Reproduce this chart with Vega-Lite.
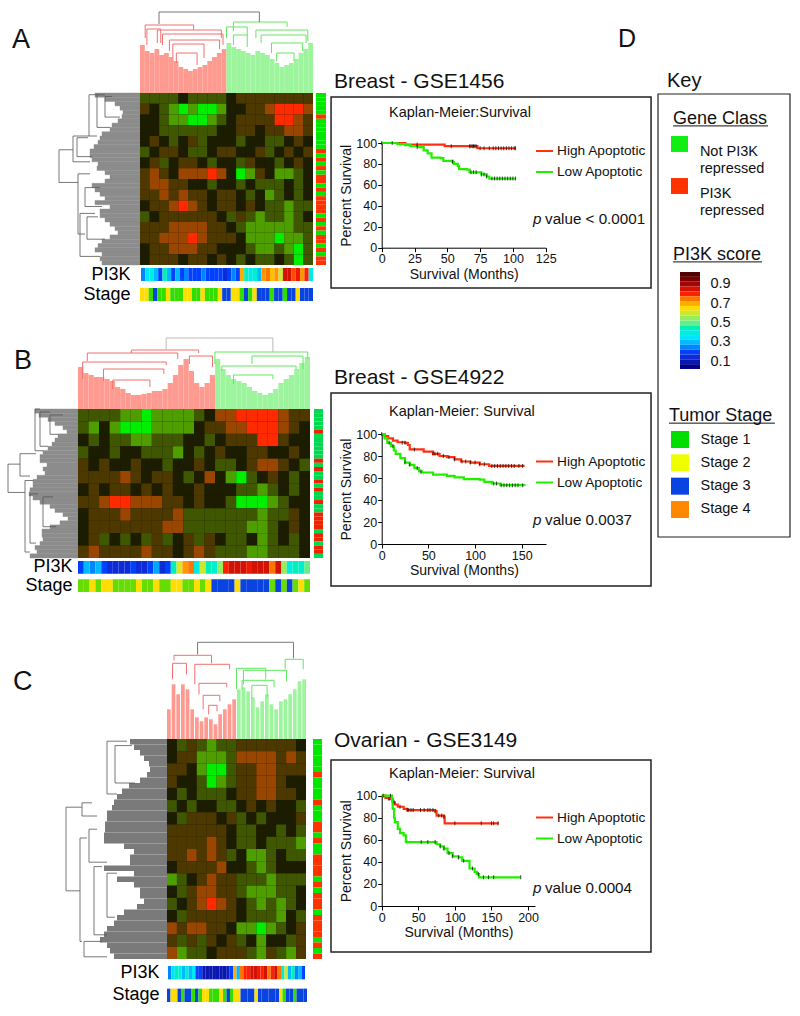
{"$schema":"https://vega.github.io/schema/vega-lite/v6.json","width":800,"height":1016,"padding":0,"autosize":{"type":"fit","contains":"padding"},"background":"white",
"config":{"font":"Liberation Sans","view":{"stroke":null},"text":{"align":"left","baseline":"middle","color":"#111"},"axis":{"grid":false,"labelFontSize":12.5,"titleFontSize":14,"titleFontWeight":"normal","tickSize":4,"tickColor":"#000","domainColor":"#000","labelColor":"#111","titleColor":"#111","labelPadding":1,"titlePadding":2,"labelOverlap":false,"labelFlush":false},"legend":{"title":null,"labelFontSize":13.7,"labelColor":"#111","symbolType":"stroke","symbolSize":289,"symbolStrokeWidth":2,"rowPadding":4,"labelOffset":3}},
"datasets":{
"A_top":[{"l":1,"h":48,"s":"P"},{"l":2,"h":42,"s":"P"},{"l":3,"h":40,"s":"P"},{"l":4,"h":44,"s":"P"},{"l":5,"h":38,"s":"P"},{"l":6,"h":40,"s":"P"},{"l":7,"h":36,"s":"P"},{"l":8,"h":32,"s":"P"},{"l":9,"h":26,"s":"P"},{"l":10,"h":24,"s":"P"},{"l":11,"h":22,"s":"P"},{"l":12,"h":24,"s":"P"},{"l":13,"h":26,"s":"P"},{"l":14,"h":28,"s":"P"},{"l":15,"h":32,"s":"P"},{"l":16,"h":36,"s":"P"},{"l":17,"h":40,"s":"P"},{"l":18,"h":44,"s":"P"},{"l":19,"h":50,"s":"N"},{"l":20,"h":46,"s":"N"},{"l":21,"h":44,"s":"N"},{"l":22,"h":42,"s":"N"},{"l":23,"h":40,"s":"N"},{"l":24,"h":38,"s":"N"},{"l":25,"h":42,"s":"N"},{"l":26,"h":40,"s":"N"},{"l":27,"h":38,"s":"N"},{"l":28,"h":34,"s":"N"},{"l":29,"h":30,"s":"N"},{"l":30,"h":26,"s":"N"},{"l":31,"h":28,"s":"N"},{"l":32,"h":30,"s":"N"},{"l":33,"h":34,"s":"N"},{"l":34,"h":40,"s":"N"},{"l":35,"h":44,"s":"N"},{"l":36,"h":50,"s":"N"}],
"B_top":[{"l":1,"h":42,"s":"P"},{"l":2,"h":36,"s":"P"},{"l":3,"h":34,"s":"P"},{"l":4,"h":32,"s":"P"},{"l":5,"h":32,"s":"P"},{"l":6,"h":30,"s":"P"},{"l":7,"h":28,"s":"P"},{"l":8,"h":22,"s":"P"},{"l":9,"h":20,"s":"P"},{"l":10,"h":16,"s":"P"},{"l":11,"h":14,"s":"P"},{"l":12,"h":14,"s":"P"},{"l":13,"h":15,"s":"P"},{"l":14,"h":16,"s":"P"},{"l":15,"h":18,"s":"P"},{"l":16,"h":18,"s":"P"},{"l":17,"h":20,"s":"P"},{"l":18,"h":26,"s":"P"},{"l":19,"h":34,"s":"P"},{"l":20,"h":44,"s":"P"},{"l":21,"h":50,"s":"P"},{"l":22,"h":38,"s":"P"},{"l":23,"h":26,"s":"P"},{"l":24,"h":22,"s":"P"},{"l":25,"h":26,"s":"P"},{"l":26,"h":34,"s":"P"},{"l":27,"h":50,"s":"N"},{"l":28,"h":40,"s":"N"},{"l":29,"h":34,"s":"N"},{"l":30,"h":30,"s":"N"},{"l":31,"h":28,"s":"N"},{"l":32,"h":26,"s":"N"},{"l":33,"h":22,"s":"N"},{"l":34,"h":18,"s":"N"},{"l":35,"h":16,"s":"N"},{"l":36,"h":14,"s":"N"},{"l":37,"h":16,"s":"N"},{"l":38,"h":20,"s":"N"},{"l":39,"h":26,"s":"N"},{"l":40,"h":30,"s":"N"},{"l":41,"h":34,"s":"N"},{"l":42,"h":40,"s":"N"},{"l":43,"h":46,"s":"N"},{"l":44,"h":52,"s":"N"}],
"C_top":[{"l":1,"h":30,"s":"P"},{"l":2,"h":55,"s":"P"},{"l":3,"h":45,"s":"P"},{"l":4,"h":55,"s":"P"},{"l":5,"h":50,"s":"P"},{"l":6,"h":30,"s":"P"},{"l":7,"h":22,"s":"P"},{"l":8,"h":18,"s":"P"},{"l":9,"h":22,"s":"P"},{"l":10,"h":20,"s":"P"},{"l":11,"h":15,"s":"P"},{"l":12,"h":25,"s":"P"},{"l":13,"h":30,"s":"P"},{"l":14,"h":35,"s":"P"},{"l":15,"h":40,"s":"P"},{"l":16,"h":50,"s":"N"},{"l":17,"h":52,"s":"N"},{"l":18,"h":48,"s":"N"},{"l":19,"h":42,"s":"N"},{"l":20,"h":32,"s":"N"},{"l":21,"h":38,"s":"N"},{"l":22,"h":45,"s":"N"},{"l":23,"h":35,"s":"N"},{"l":24,"h":30,"s":"N"},{"l":25,"h":38,"s":"N"},{"l":26,"h":40,"s":"N"},{"l":27,"h":45,"s":"N"},{"l":28,"h":50,"s":"N"},{"l":29,"h":58,"s":"N"},{"l":30,"h":60,"s":"N"}],
"A_arch":[{"l":11,"r":69,"h":81,"a":69,"b":71,"g":"root"},{"l":3,"r":31,"h":68,"a":55,"b":63,"g":"P"},{"l":10,"r":47,"h":63,"a":50,"b":55,"g":"P"},{"l":13,"r":48,"h":59,"a":48,"b":48,"g":"P"},{"l":17,"r":46,"h":53,"a":42,"b":44,"g":"P"},{"l":19,"r":37,"h":49,"a":36,"b":35,"g":"P"},{"l":21,"r":33,"h":40,"a":30,"b":28,"g":"P"},{"l":4,"r":12,"h":64,"a":48,"b":50,"g":"P"},{"l":54,"r":85,"h":71,"a":62,"b":66,"g":"N"},{"l":50,"r":62,"h":66,"a":55,"b":58,"g":"N"},{"l":67,"r":97,"h":63,"a":55,"b":52,"g":"N"},{"l":70,"r":96,"h":58,"a":50,"b":50,"g":"N"},{"l":76,"r":94,"h":50,"a":40,"b":42,"g":"N"},{"l":79,"r":89,"h":40,"a":32,"b":32,"g":"N"},{"l":54,"r":62,"h":58,"a":48,"b":46,"g":"N"}],
"B_arch":[{"l":38,"r":84,"h":71,"a":59,"b":57,"g":"root"},{"l":23,"r":52,"h":59,"a":56,"b":56,"g":"P"},{"l":4,"r":43,"h":56,"a":48,"b":50,"g":"P"},{"l":48,"r":58,"h":53,"a":45,"b":42,"g":"P"},{"l":2,"r":38,"h":47,"a":30,"b":44,"g":"P"},{"l":11,"r":37,"h":40,"a":28,"b":35,"g":"P"},{"l":15,"r":31,"h":29,"a":20,"b":22,"g":"P"},{"l":59,"r":99,"h":57,"a":45,"b":50,"g":"N"},{"l":75,"r":97,"h":53,"a":45,"b":40,"g":"N"},{"l":62,"r":94,"h":43,"a":38,"b":40,"g":"N"},{"l":67,"r":84,"h":34,"a":25,"b":30,"g":"N"}],
"C_arch":[{"l":22,"r":91,"h":97,"a":85,"b":81,"g":"root"},{"l":5,"r":32,"h":84,"a":79,"b":76,"g":"P"},{"l":20,"r":45,"h":75,"a":55,"b":70,"g":"P"},{"l":23,"r":43,"h":56,"a":45,"b":52,"g":"P"},{"l":26,"r":38,"h":44,"a":30,"b":38,"g":"P"},{"l":4,"r":14,"h":76,"a":60,"b":65,"g":"P"},{"l":30,"r":36,"h":34,"a":25,"b":28,"g":"P"},{"l":85,"r":98,"h":80,"a":70,"b":70,"g":"N"},{"l":55,"r":86,"h":69,"a":55,"b":58,"g":"N"},{"l":50,"r":71,"h":71,"a":50,"b":60,"g":"N"},{"l":54,"r":77,"h":59,"a":50,"b":52,"g":"N"},{"l":61,"r":72,"h":54,"a":40,"b":42,"g":"N"}],
"A_left":[{"r":1,"d":45},{"r":2,"d":35},{"r":3,"d":25},{"r":4,"d":20},{"r":5,"d":17},{"r":6,"d":18},{"r":7,"d":22},{"r":8,"d":28},{"r":9,"d":30},{"r":10,"d":38},{"r":11,"d":40},{"r":12,"d":42},{"r":13,"d":46},{"r":14,"d":50},{"r":15,"d":50},{"r":16,"d":48},{"r":17,"d":42},{"r":18,"d":43},{"r":19,"d":35},{"r":20,"d":30},{"r":21,"d":35},{"r":22,"d":48},{"r":23,"d":45},{"r":24,"d":40},{"r":25,"d":35},{"r":26,"d":45},{"r":27,"d":30},{"r":28,"d":40},{"r":29,"d":40},{"r":30,"d":35},{"r":31,"d":30},{"r":32,"d":25},{"r":33,"d":22},{"r":34,"d":30},{"r":35,"d":38},{"r":36,"d":42},{"r":37,"d":45},{"r":38,"d":38},{"r":39,"d":40},{"r":40,"d":38}],
"B_left":[{"r":1,"d":43},{"r":2,"d":39},{"r":3,"d":30},{"r":4,"d":23},{"r":5,"d":15},{"r":6,"d":11},{"r":7,"d":20},{"r":8,"d":23},{"r":9,"d":26},{"r":10,"d":30},{"r":11,"d":35},{"r":12,"d":38},{"r":13,"d":38},{"r":14,"d":31},{"r":15,"d":35},{"r":16,"d":33},{"r":17,"d":41},{"r":18,"d":45},{"r":19,"d":45},{"r":20,"d":48},{"r":21,"d":49},{"r":22,"d":45},{"r":23,"d":38},{"r":24,"d":28},{"r":25,"d":23},{"r":26,"d":15},{"r":27,"d":10},{"r":28,"d":18},{"r":29,"d":28},{"r":30,"d":36},{"r":31,"d":36},{"r":32,"d":35},{"r":33,"d":38},{"r":34,"d":43},{"r":35,"d":41},{"r":36,"d":48}],
"C_left":[{"r":1,"d":37},{"r":2,"d":33},{"r":3,"d":27},{"r":4,"d":23},{"r":5,"d":18},{"r":6,"d":17},{"r":7,"d":20},{"r":8,"d":27},{"r":9,"d":38},{"r":10,"d":45},{"r":11,"d":50},{"r":12,"d":53},{"r":13,"d":55},{"r":14,"d":60},{"r":15,"d":60},{"r":16,"d":62},{"r":17,"d":62},{"r":18,"d":63},{"r":19,"d":63},{"r":20,"d":43},{"r":21,"d":33},{"r":22,"d":37},{"r":23,"d":37},{"r":24,"d":63},{"r":25,"d":33},{"r":26,"d":50},{"r":27,"d":33},{"r":28,"d":27},{"r":29,"d":27},{"r":30,"d":23},{"r":31,"d":30},{"r":32,"d":43},{"r":33,"d":50},{"r":34,"d":53},{"r":35,"d":60},{"r":36,"d":63},{"r":37,"d":67},{"r":38,"d":60},{"r":39,"d":57},{"r":40,"d":53}],
"A_la":[{"t":33,"b":52,"d":81,"p":67,"q":62},{"t":25,"b":40,"d":67,"p":51,"q":50},{"t":1,"b":25,"d":51,"p":43,"q":43},{"t":1,"b":20,"d":43,"p":35,"q":30},{"t":2,"b":14,"d":35,"p":28,"q":20},{"t":47,"b":82,"d":62,"p":50,"q":55},{"t":70,"b":95,"d":60,"p":45,"q":40},{"t":55,"b":66,"d":55,"p":40,"q":38},{"t":72,"b":85,"d":53,"p":42,"q":35},{"t":26,"b":37,"d":63,"p":52,"q":48}],
"B_la":[{"t":37,"b":56,"d":70,"p":58,"q":53},{"t":30,"b":45,"d":58,"p":42,"q":48},{"t":48,"b":96,"d":53,"p":45,"q":48},{"t":0,"b":28,"d":43,"p":38,"q":35},{"t":2,"b":25,"d":38,"p":28,"q":30},{"t":57,"b":90,"d":48,"p":40,"q":42},{"t":59,"b":79,"d":35,"p":25,"q":22},{"t":4,"b":17,"d":28,"p":15,"q":20}],
"C_la":[{"t":31,"b":69,"d":101,"p":85,"q":87},{"t":29,"b":35,"d":85,"p":75,"q":70},{"t":45,"b":92,"d":87,"p":80,"q":85},{"t":1,"b":25,"d":60,"p":40,"q":50},{"t":3,"b":20,"d":52,"p":35,"q":32},{"t":58,"b":89,"d":73,"p":65,"q":60},{"t":61,"b":81,"d":60,"p":50,"q":52},{"t":41,"b":56,"d":78,"p":70,"q":60},{"t":92,"b":99,"d":83,"p":65,"q":60}],
"A_heat":[{"c":1,"r":1,"v":-1},{"c":2,"r":1,"v":-1},{"c":3,"r":1,"v":-1},{"c":4,"r":1,"v":-1},{"c":5,"r":1,"v":0},{"c":6,"r":1,"v":-1},{"c":7,"r":1,"v":-1},{"c":8,"r":1,"v":-1},{"c":9,"r":1,"v":-1},{"c":10,"r":1,"v":0},{"c":11,"r":1,"v":1},{"c":12,"r":1,"v":1},{"c":13,"r":1,"v":1},{"c":14,"r":1,"v":1},{"c":15,"r":1,"v":1},{"c":16,"r":1,"v":1},{"c":17,"r":1,"v":1},{"c":18,"r":1,"v":1},
{"c":1,"r":2,"v":1},{"c":2,"r":2,"v":0},{"c":3,"r":2,"v":-1},{"c":4,"r":2,"v":-2},{"c":5,"r":2,"v":-3},{"c":6,"r":2,"v":-2},{"c":7,"r":2,"v":-3},{"c":8,"r":2,"v":-3},{"c":9,"r":2,"v":-2},{"c":10,"r":2,"v":0},{"c":11,"r":2,"v":0},{"c":12,"r":2,"v":1},{"c":13,"r":2,"v":1},{"c":14,"r":2,"v":2},{"c":15,"r":2,"v":3},{"c":16,"r":2,"v":3},{"c":17,"r":2,"v":3},{"c":18,"r":2,"v":2},
{"c":1,"r":3,"v":0},{"c":2,"r":3,"v":0},{"c":3,"r":3,"v":-1},{"c":4,"r":3,"v":-2},{"c":5,"r":3,"v":-2},{"c":6,"r":3,"v":-3},{"c":7,"r":3,"v":-3},{"c":8,"r":3,"v":-2},{"c":9,"r":3,"v":-1},{"c":10,"r":3,"v":0},{"c":11,"r":3,"v":1},{"c":12,"r":3,"v":1},{"c":13,"r":3,"v":1},{"c":14,"r":3,"v":1},{"c":15,"r":3,"v":3},{"c":16,"r":3,"v":3},{"c":17,"r":3,"v":2},{"c":18,"r":3,"v":1},
{"c":1,"r":4,"v":0},{"c":2,"r":4,"v":0},{"c":3,"r":4,"v":-1},{"c":4,"r":4,"v":-1},{"c":5,"r":4,"v":-1},{"c":6,"r":4,"v":-1},{"c":7,"r":4,"v":-1},{"c":8,"r":4,"v":-1},{"c":9,"r":4,"v":0},{"c":10,"r":4,"v":0},{"c":11,"r":4,"v":1},{"c":12,"r":4,"v":1},{"c":13,"r":4,"v":0},{"c":14,"r":4,"v":1},{"c":15,"r":4,"v":1},{"c":16,"r":4,"v":2},{"c":17,"r":4,"v":2},{"c":18,"r":4,"v":1},
{"c":1,"r":5,"v":0},{"c":2,"r":5,"v":1},{"c":3,"r":5,"v":0},{"c":4,"r":5,"v":-1},{"c":5,"r":5,"v":0},{"c":6,"r":5,"v":1},{"c":7,"r":5,"v":-1},{"c":8,"r":5,"v":0},{"c":9,"r":5,"v":0},{"c":10,"r":5,"v":0},{"c":11,"r":5,"v":-1},{"c":12,"r":5,"v":0},{"c":13,"r":5,"v":0},{"c":14,"r":5,"v":-1},{"c":15,"r":5,"v":-1},{"c":16,"r":5,"v":0},{"c":17,"r":5,"v":1},{"c":18,"r":5,"v":0},
{"c":1,"r":6,"v":-1},{"c":2,"r":6,"v":0},{"c":3,"r":6,"v":1},{"c":4,"r":6,"v":1},{"c":5,"r":6,"v":0},{"c":6,"r":6,"v":-1},{"c":7,"r":6,"v":-1},{"c":8,"r":6,"v":0},{"c":9,"r":6,"v":1},{"c":10,"r":6,"v":1},{"c":11,"r":6,"v":0},{"c":12,"r":6,"v":0},{"c":13,"r":6,"v":1},{"c":14,"r":6,"v":-1},{"c":15,"r":6,"v":0},{"c":16,"r":6,"v":1},{"c":17,"r":6,"v":0},{"c":18,"r":6,"v":1},
{"c":1,"r":7,"v":0},{"c":2,"r":7,"v":1},{"c":3,"r":7,"v":-1},{"c":4,"r":7,"v":0},{"c":5,"r":7,"v":1},{"c":6,"r":7,"v":1},{"c":7,"r":7,"v":0},{"c":8,"r":7,"v":-1},{"c":9,"r":7,"v":0},{"c":10,"r":7,"v":0},{"c":11,"r":7,"v":-1},{"c":12,"r":7,"v":1},{"c":13,"r":7,"v":0},{"c":14,"r":7,"v":0},{"c":15,"r":7,"v":-1},{"c":16,"r":7,"v":0},{"c":17,"r":7,"v":1},{"c":18,"r":7,"v":0},
{"c":1,"r":8,"v":1},{"c":2,"r":8,"v":2},{"c":3,"r":8,"v":1},{"c":4,"r":8,"v":0},{"c":5,"r":8,"v":2},{"c":6,"r":8,"v":2},{"c":7,"r":8,"v":2},{"c":8,"r":8,"v":3},{"c":9,"r":8,"v":2},{"c":10,"r":8,"v":0},{"c":11,"r":8,"v":-3},{"c":12,"r":8,"v":-2},{"c":13,"r":8,"v":1},{"c":14,"r":8,"v":0},{"c":15,"r":8,"v":-2},{"c":16,"r":8,"v":-2},{"c":17,"r":8,"v":-1},{"c":18,"r":8,"v":0},
{"c":1,"r":9,"v":1},{"c":2,"r":9,"v":2},{"c":3,"r":9,"v":2},{"c":4,"r":9,"v":1},{"c":5,"r":9,"v":1},{"c":6,"r":9,"v":0},{"c":7,"r":9,"v":0},{"c":8,"r":9,"v":-1},{"c":9,"r":9,"v":0},{"c":10,"r":9,"v":0},{"c":11,"r":9,"v":-1},{"c":12,"r":9,"v":0},{"c":13,"r":9,"v":-1},{"c":14,"r":9,"v":-1},{"c":15,"r":9,"v":-1},{"c":16,"r":9,"v":0},{"c":17,"r":9,"v":-1},{"c":18,"r":9,"v":0},
{"c":1,"r":10,"v":1},{"c":2,"r":10,"v":1},{"c":3,"r":10,"v":2},{"c":4,"r":10,"v":1},{"c":5,"r":10,"v":2},{"c":6,"r":10,"v":1},{"c":7,"r":10,"v":1},{"c":8,"r":10,"v":0},{"c":9,"r":10,"v":1},{"c":10,"r":10,"v":1},{"c":11,"r":10,"v":0},{"c":12,"r":10,"v":-1},{"c":13,"r":10,"v":0},{"c":14,"r":10,"v":-2},{"c":15,"r":10,"v":-1},{"c":16,"r":10,"v":0},{"c":17,"r":10,"v":-1},{"c":18,"r":10,"v":0},
{"c":1,"r":11,"v":0},{"c":2,"r":11,"v":1},{"c":3,"r":11,"v":1},{"c":4,"r":11,"v":2},{"c":5,"r":11,"v":3},{"c":6,"r":11,"v":2},{"c":7,"r":11,"v":1},{"c":8,"r":11,"v":0},{"c":9,"r":11,"v":1},{"c":10,"r":11,"v":1},{"c":11,"r":11,"v":0},{"c":12,"r":11,"v":1},{"c":13,"r":11,"v":0},{"c":14,"r":11,"v":-1},{"c":15,"r":11,"v":-1},{"c":16,"r":11,"v":-2},{"c":17,"r":11,"v":-1},{"c":18,"r":11,"v":-1},
{"c":1,"r":12,"v":-1},{"c":2,"r":12,"v":0},{"c":3,"r":12,"v":1},{"c":4,"r":12,"v":1},{"c":5,"r":12,"v":1},{"c":6,"r":12,"v":1},{"c":7,"r":12,"v":1},{"c":8,"r":12,"v":1},{"c":9,"r":12,"v":0},{"c":10,"r":12,"v":-1},{"c":11,"r":12,"v":1},{"c":12,"r":12,"v":-1},{"c":13,"r":12,"v":-2},{"c":14,"r":12,"v":-1},{"c":15,"r":12,"v":-1},{"c":16,"r":12,"v":-2},{"c":17,"r":12,"v":-1},{"c":18,"r":12,"v":0},
{"c":1,"r":13,"v":1},{"c":2,"r":13,"v":1},{"c":3,"r":13,"v":1},{"c":4,"r":13,"v":2},{"c":5,"r":13,"v":2},{"c":6,"r":13,"v":2},{"c":7,"r":13,"v":2},{"c":8,"r":13,"v":1},{"c":9,"r":13,"v":1},{"c":10,"r":13,"v":0},{"c":11,"r":13,"v":-1},{"c":12,"r":13,"v":-2},{"c":13,"r":13,"v":-2},{"c":14,"r":13,"v":-2},{"c":15,"r":13,"v":-2},{"c":16,"r":13,"v":-2},{"c":17,"r":13,"v":-1},{"c":18,"r":13,"v":-1},
{"c":1,"r":14,"v":1},{"c":2,"r":14,"v":1},{"c":3,"r":14,"v":2},{"c":4,"r":14,"v":2},{"c":5,"r":14,"v":2},{"c":6,"r":14,"v":3},{"c":7,"r":14,"v":2},{"c":8,"r":14,"v":1},{"c":9,"r":14,"v":1},{"c":10,"r":14,"v":1},{"c":11,"r":14,"v":0},{"c":12,"r":14,"v":-2},{"c":13,"r":14,"v":-2},{"c":14,"r":14,"v":-2},{"c":15,"r":14,"v":-3},{"c":16,"r":14,"v":-2},{"c":17,"r":14,"v":-2},{"c":18,"r":14,"v":-1},
{"c":1,"r":15,"v":0},{"c":2,"r":15,"v":1},{"c":3,"r":15,"v":1},{"c":4,"r":15,"v":2},{"c":5,"r":15,"v":2},{"c":6,"r":15,"v":2},{"c":7,"r":15,"v":1},{"c":8,"r":15,"v":1},{"c":9,"r":15,"v":0},{"c":10,"r":15,"v":0},{"c":11,"r":15,"v":0},{"c":12,"r":15,"v":-1},{"c":13,"r":15,"v":-2},{"c":14,"r":15,"v":-2},{"c":15,"r":15,"v":-1},{"c":16,"r":15,"v":-2},{"c":17,"r":15,"v":-3},{"c":18,"r":15,"v":-1},
{"c":1,"r":16,"v":0},{"c":2,"r":16,"v":1},{"c":3,"r":16,"v":1},{"c":4,"r":16,"v":1},{"c":5,"r":16,"v":0},{"c":6,"r":16,"v":1},{"c":7,"r":16,"v":1},{"c":8,"r":16,"v":0},{"c":9,"r":16,"v":1},{"c":10,"r":16,"v":0},{"c":11,"r":16,"v":-1},{"c":12,"r":16,"v":0},{"c":13,"r":16,"v":-1},{"c":14,"r":16,"v":-1},{"c":15,"r":16,"v":0},{"c":16,"r":16,"v":-1},{"c":17,"r":16,"v":-3},{"c":18,"r":16,"v":-1}],
"B_heat":[{"c":1,"r":1,"v":-1},{"c":2,"r":1,"v":-1},{"c":3,"r":1,"v":-1},{"c":4,"r":1,"v":-1},{"c":5,"r":1,"v":-2},{"c":6,"r":1,"v":-2},{"c":7,"r":1,"v":-3},{"c":8,"r":1,"v":-2},{"c":9,"r":1,"v":-2},{"c":10,"r":1,"v":-2},{"c":11,"r":1,"v":-2},{"c":12,"r":1,"v":-1},{"c":13,"r":1,"v":0},{"c":14,"r":1,"v":2},{"c":15,"r":1,"v":2},{"c":16,"r":1,"v":3},{"c":17,"r":1,"v":3},{"c":18,"r":1,"v":3},{"c":19,"r":1,"v":3},{"c":20,"r":1,"v":2},{"c":21,"r":1,"v":1},{"c":22,"r":1,"v":1},
{"c":1,"r":2,"v":-1},{"c":2,"r":2,"v":-2},{"c":3,"r":2,"v":0},{"c":4,"r":2,"v":-2},{"c":5,"r":2,"v":-3},{"c":6,"r":2,"v":-3},{"c":7,"r":2,"v":-3},{"c":8,"r":2,"v":-2},{"c":9,"r":2,"v":-2},{"c":10,"r":2,"v":-2},{"c":11,"r":2,"v":-2},{"c":12,"r":2,"v":0},{"c":13,"r":2,"v":1},{"c":14,"r":2,"v":1},{"c":15,"r":2,"v":2},{"c":16,"r":2,"v":2},{"c":17,"r":2,"v":3},{"c":18,"r":2,"v":3},{"c":19,"r":2,"v":3},{"c":20,"r":2,"v":2},{"c":21,"r":2,"v":1},{"c":22,"r":2,"v":0},
{"c":1,"r":3,"v":0},{"c":2,"r":3,"v":-1},{"c":3,"r":3,"v":0},{"c":4,"r":3,"v":-1},{"c":5,"r":3,"v":-1},{"c":6,"r":3,"v":-2},{"c":7,"r":3,"v":-2},{"c":8,"r":3,"v":-1},{"c":9,"r":3,"v":-1},{"c":10,"r":3,"v":-1},{"c":11,"r":3,"v":0},{"c":12,"r":3,"v":0},{"c":13,"r":3,"v":-1},{"c":14,"r":3,"v":0},{"c":15,"r":3,"v":1},{"c":16,"r":3,"v":1},{"c":17,"r":3,"v":1},{"c":18,"r":3,"v":3},{"c":19,"r":3,"v":3},{"c":20,"r":3,"v":1},{"c":21,"r":3,"v":0},{"c":22,"r":3,"v":0},
{"c":1,"r":4,"v":-1},{"c":2,"r":4,"v":0},{"c":3,"r":4,"v":0},{"c":4,"r":4,"v":-1},{"c":5,"r":4,"v":0},{"c":6,"r":4,"v":0},{"c":7,"r":4,"v":-1},{"c":8,"r":4,"v":-1},{"c":9,"r":4,"v":-1},{"c":10,"r":4,"v":-2},{"c":11,"r":4,"v":0},{"c":12,"r":4,"v":-1},{"c":13,"r":4,"v":0},{"c":14,"r":4,"v":1},{"c":15,"r":4,"v":0},{"c":16,"r":4,"v":0},{"c":17,"r":4,"v":1},{"c":18,"r":4,"v":1},{"c":19,"r":4,"v":0},{"c":20,"r":4,"v":0},{"c":21,"r":4,"v":1},{"c":22,"r":4,"v":0},
{"c":1,"r":5,"v":1},{"c":2,"r":5,"v":0},{"c":3,"r":5,"v":1},{"c":4,"r":5,"v":0},{"c":5,"r":5,"v":0},{"c":6,"r":5,"v":1},{"c":7,"r":5,"v":0},{"c":8,"r":5,"v":0},{"c":9,"r":5,"v":-1},{"c":10,"r":5,"v":0},{"c":11,"r":5,"v":0},{"c":12,"r":5,"v":1},{"c":13,"r":5,"v":0},{"c":14,"r":5,"v":-1},{"c":15,"r":5,"v":-1},{"c":16,"r":5,"v":0},{"c":17,"r":5,"v":1},{"c":18,"r":5,"v":2},{"c":19,"r":5,"v":2},{"c":20,"r":5,"v":1},{"c":21,"r":5,"v":0},{"c":22,"r":5,"v":-1},
{"c":1,"r":6,"v":1},{"c":2,"r":6,"v":1},{"c":3,"r":6,"v":1},{"c":4,"r":6,"v":1},{"c":5,"r":6,"v":2},{"c":6,"r":6,"v":1},{"c":7,"r":6,"v":0},{"c":8,"r":6,"v":1},{"c":9,"r":6,"v":1},{"c":10,"r":6,"v":0},{"c":11,"r":6,"v":-1},{"c":12,"r":6,"v":0},{"c":13,"r":6,"v":2},{"c":14,"r":6,"v":0},{"c":15,"r":6,"v":-2},{"c":16,"r":6,"v":-3},{"c":17,"r":6,"v":-1},{"c":18,"r":6,"v":0},{"c":19,"r":6,"v":1},{"c":20,"r":6,"v":0},{"c":21,"r":6,"v":-1},{"c":22,"r":6,"v":0},
{"c":1,"r":7,"v":0},{"c":2,"r":7,"v":1},{"c":3,"r":7,"v":0},{"c":4,"r":7,"v":1},{"c":5,"r":7,"v":1},{"c":6,"r":7,"v":0},{"c":7,"r":7,"v":1},{"c":8,"r":7,"v":0},{"c":9,"r":7,"v":1},{"c":10,"r":7,"v":0},{"c":11,"r":7,"v":0},{"c":12,"r":7,"v":1},{"c":13,"r":7,"v":0},{"c":14,"r":7,"v":0},{"c":15,"r":7,"v":0},{"c":16,"r":7,"v":-1},{"c":17,"r":7,"v":-1},{"c":18,"r":7,"v":-2},{"c":19,"r":7,"v":-1},{"c":20,"r":7,"v":0},{"c":21,"r":7,"v":-1},{"c":22,"r":7,"v":0},
{"c":1,"r":8,"v":1},{"c":2,"r":8,"v":1},{"c":3,"r":8,"v":2},{"c":4,"r":8,"v":3},{"c":5,"r":8,"v":3},{"c":6,"r":8,"v":2},{"c":7,"r":8,"v":2},{"c":8,"r":8,"v":2},{"c":9,"r":8,"v":1},{"c":10,"r":8,"v":1},{"c":11,"r":8,"v":0},{"c":12,"r":8,"v":1},{"c":13,"r":8,"v":0},{"c":14,"r":8,"v":0},{"c":15,"r":8,"v":-1},{"c":16,"r":8,"v":-3},{"c":17,"r":8,"v":-3},{"c":18,"r":8,"v":-3},{"c":19,"r":8,"v":-2},{"c":20,"r":8,"v":-1},{"c":21,"r":8,"v":0},{"c":22,"r":8,"v":0},
{"c":1,"r":9,"v":0},{"c":2,"r":9,"v":1},{"c":3,"r":9,"v":1},{"c":4,"r":9,"v":1},{"c":5,"r":9,"v":2},{"c":6,"r":9,"v":1},{"c":7,"r":9,"v":1},{"c":8,"r":9,"v":1},{"c":9,"r":9,"v":1},{"c":10,"r":9,"v":2},{"c":11,"r":9,"v":-1},{"c":12,"r":9,"v":-1},{"c":13,"r":9,"v":-1},{"c":14,"r":9,"v":-1},{"c":15,"r":9,"v":-1},{"c":16,"r":9,"v":-1},{"c":17,"r":9,"v":-1},{"c":18,"r":9,"v":-2},{"c":19,"r":9,"v":-1},{"c":20,"r":9,"v":-1},{"c":21,"r":9,"v":1},{"c":22,"r":9,"v":0},
{"c":1,"r":10,"v":0},{"c":2,"r":10,"v":1},{"c":3,"r":10,"v":1},{"c":4,"r":10,"v":1},{"c":5,"r":10,"v":1},{"c":6,"r":10,"v":1},{"c":7,"r":10,"v":1},{"c":8,"r":10,"v":1},{"c":9,"r":10,"v":2},{"c":10,"r":10,"v":2},{"c":11,"r":10,"v":-1},{"c":12,"r":10,"v":-1},{"c":13,"r":10,"v":-1},{"c":14,"r":10,"v":-1},{"c":15,"r":10,"v":-1},{"c":16,"r":10,"v":-1},{"c":17,"r":10,"v":-2},{"c":18,"r":10,"v":-2},{"c":19,"r":10,"v":-1},{"c":20,"r":10,"v":0},{"c":21,"r":10,"v":1},{"c":22,"r":10,"v":0},
{"c":1,"r":11,"v":0},{"c":2,"r":11,"v":1},{"c":3,"r":11,"v":-1},{"c":4,"r":11,"v":0},{"c":5,"r":11,"v":-1},{"c":6,"r":11,"v":0},{"c":7,"r":11,"v":-1},{"c":8,"r":11,"v":1},{"c":9,"r":11,"v":-1},{"c":10,"r":11,"v":0},{"c":11,"r":11,"v":1},{"c":12,"r":11,"v":-1},{"c":13,"r":11,"v":1},{"c":14,"r":11,"v":0},{"c":15,"r":11,"v":-1},{"c":16,"r":11,"v":-1},{"c":17,"r":11,"v":0},{"c":18,"r":11,"v":-2},{"c":19,"r":11,"v":-1},{"c":20,"r":11,"v":0},{"c":21,"r":11,"v":-1},{"c":22,"r":11,"v":0},
{"c":1,"r":12,"v":1},{"c":2,"r":12,"v":2},{"c":3,"r":12,"v":1},{"c":4,"r":12,"v":1},{"c":5,"r":12,"v":1},{"c":6,"r":12,"v":1},{"c":7,"r":12,"v":2},{"c":8,"r":12,"v":1},{"c":9,"r":12,"v":1},{"c":10,"r":12,"v":0},{"c":11,"r":12,"v":1},{"c":12,"r":12,"v":2},{"c":13,"r":12,"v":1},{"c":14,"r":12,"v":-1},{"c":15,"r":12,"v":-1},{"c":16,"r":12,"v":-1},{"c":17,"r":12,"v":-2},{"c":18,"r":12,"v":-2},{"c":19,"r":12,"v":-1},{"c":20,"r":12,"v":-1},{"c":21,"r":12,"v":-1},{"c":22,"r":12,"v":0}],
"C_heat":[{"c":1,"r":1,"v":0},{"c":2,"r":1,"v":-1},{"c":3,"r":1,"v":1},{"c":4,"r":1,"v":-1},{"c":5,"r":1,"v":-2},{"c":6,"r":1,"v":-1},{"c":7,"r":1,"v":-1},{"c":8,"r":1,"v":1},{"c":9,"r":1,"v":1},{"c":10,"r":1,"v":1},{"c":11,"r":1,"v":1},{"c":12,"r":1,"v":1},{"c":13,"r":1,"v":1},{"c":14,"r":1,"v":0},
{"c":1,"r":2,"v":0},{"c":2,"r":2,"v":1},{"c":3,"r":2,"v":1},{"c":4,"r":2,"v":-2},{"c":5,"r":2,"v":-2},{"c":6,"r":2,"v":-2},{"c":7,"r":2,"v":-1},{"c":8,"r":2,"v":2},{"c":9,"r":2,"v":2},{"c":10,"r":2,"v":2},{"c":11,"r":2,"v":2},{"c":12,"r":2,"v":1},{"c":13,"r":2,"v":2},{"c":14,"r":2,"v":1},
{"c":1,"r":3,"v":1},{"c":2,"r":3,"v":1},{"c":3,"r":3,"v":0},{"c":4,"r":3,"v":-2},{"c":5,"r":3,"v":-3},{"c":6,"r":3,"v":-3},{"c":7,"r":3,"v":-1},{"c":8,"r":3,"v":1},{"c":9,"r":3,"v":1},{"c":10,"r":3,"v":2},{"c":11,"r":3,"v":2},{"c":12,"r":3,"v":1},{"c":13,"r":3,"v":1},{"c":14,"r":3,"v":1},
{"c":1,"r":4,"v":1},{"c":2,"r":4,"v":0},{"c":3,"r":4,"v":0},{"c":4,"r":4,"v":-1},{"c":5,"r":4,"v":-3},{"c":6,"r":4,"v":-2},{"c":7,"r":4,"v":-1},{"c":8,"r":4,"v":1},{"c":9,"r":4,"v":1},{"c":10,"r":4,"v":2},{"c":11,"r":4,"v":2},{"c":12,"r":4,"v":1},{"c":13,"r":4,"v":0},{"c":14,"r":4,"v":0},
{"c":1,"r":5,"v":0},{"c":2,"r":5,"v":-1},{"c":3,"r":5,"v":0},{"c":4,"r":5,"v":-1},{"c":5,"r":5,"v":-1},{"c":6,"r":5,"v":-1},{"c":7,"r":5,"v":0},{"c":8,"r":5,"v":1},{"c":9,"r":5,"v":1},{"c":10,"r":5,"v":2},{"c":11,"r":5,"v":2},{"c":12,"r":5,"v":1},{"c":13,"r":5,"v":1},{"c":14,"r":5,"v":0},
{"c":1,"r":6,"v":-1},{"c":2,"r":6,"v":0},{"c":3,"r":6,"v":-1},{"c":4,"r":6,"v":0},{"c":5,"r":6,"v":0},{"c":6,"r":6,"v":-1},{"c":7,"r":6,"v":-1},{"c":8,"r":6,"v":0},{"c":9,"r":6,"v":1},{"c":10,"r":6,"v":0},{"c":11,"r":6,"v":1},{"c":12,"r":6,"v":0},{"c":13,"r":6,"v":0},{"c":14,"r":6,"v":-1},
{"c":1,"r":7,"v":0},{"c":2,"r":7,"v":-1},{"c":3,"r":7,"v":1},{"c":4,"r":7,"v":1},{"c":5,"r":7,"v":1},{"c":6,"r":7,"v":0},{"c":7,"r":7,"v":1},{"c":8,"r":7,"v":-1},{"c":9,"r":7,"v":0},{"c":10,"r":7,"v":-1},{"c":11,"r":7,"v":0},{"c":12,"r":7,"v":0},{"c":13,"r":7,"v":0},{"c":14,"r":7,"v":1},
{"c":1,"r":8,"v":1},{"c":2,"r":8,"v":1},{"c":3,"r":8,"v":1},{"c":4,"r":8,"v":1},{"c":5,"r":8,"v":1},{"c":6,"r":8,"v":1},{"c":7,"r":8,"v":0},{"c":8,"r":8,"v":-1},{"c":9,"r":8,"v":-1},{"c":10,"r":8,"v":0},{"c":11,"r":8,"v":0},{"c":12,"r":8,"v":-1},{"c":13,"r":8,"v":0},{"c":14,"r":8,"v":-1},
{"c":1,"r":9,"v":1},{"c":2,"r":9,"v":1},{"c":3,"r":9,"v":1},{"c":4,"r":9,"v":1},{"c":5,"r":9,"v":2},{"c":6,"r":9,"v":1},{"c":7,"r":9,"v":0},{"c":8,"r":9,"v":-1},{"c":9,"r":9,"v":-1},{"c":10,"r":9,"v":0},{"c":11,"r":9,"v":-1},{"c":12,"r":9,"v":-1},{"c":13,"r":9,"v":-1},{"c":14,"r":9,"v":-2},
{"c":1,"r":10,"v":1},{"c":2,"r":10,"v":1},{"c":3,"r":10,"v":2},{"c":4,"r":10,"v":1},{"c":5,"r":10,"v":2},{"c":6,"r":10,"v":1},{"c":7,"r":10,"v":-1},{"c":8,"r":10,"v":0},{"c":9,"r":10,"v":-2},{"c":10,"r":10,"v":-2},{"c":11,"r":10,"v":-1},{"c":12,"r":10,"v":0},{"c":13,"r":10,"v":-1},{"c":14,"r":10,"v":-1},
{"c":1,"r":11,"v":0},{"c":2,"r":11,"v":1},{"c":3,"r":11,"v":1},{"c":4,"r":11,"v":1},{"c":5,"r":11,"v":1},{"c":6,"r":11,"v":2},{"c":7,"r":11,"v":0},{"c":8,"r":11,"v":0},{"c":9,"r":11,"v":-1},{"c":10,"r":11,"v":-2},{"c":11,"r":11,"v":-1},{"c":12,"r":11,"v":0},{"c":13,"r":11,"v":0},{"c":14,"r":11,"v":0},
{"c":1,"r":12,"v":-2},{"c":2,"r":12,"v":-1},{"c":3,"r":12,"v":0},{"c":4,"r":12,"v":1},{"c":5,"r":12,"v":2},{"c":6,"r":12,"v":1},{"c":7,"r":12,"v":1},{"c":8,"r":12,"v":-1},{"c":9,"r":12,"v":-1},{"c":10,"r":12,"v":-1},{"c":11,"r":12,"v":-2},{"c":12,"r":12,"v":-1},{"c":13,"r":12,"v":-1},{"c":14,"r":12,"v":-1},
{"c":1,"r":13,"v":0},{"c":2,"r":13,"v":-1},{"c":3,"r":13,"v":1},{"c":4,"r":13,"v":2},{"c":5,"r":13,"v":2},{"c":6,"r":13,"v":1},{"c":7,"r":13,"v":1},{"c":8,"r":13,"v":-1},{"c":9,"r":13,"v":-2},{"c":10,"r":13,"v":-2},{"c":11,"r":13,"v":-2},{"c":12,"r":13,"v":-1},{"c":13,"r":13,"v":-1},{"c":14,"r":13,"v":0},
{"c":1,"r":14,"v":-1},{"c":2,"r":14,"v":0},{"c":3,"r":14,"v":1},{"c":4,"r":14,"v":2},{"c":5,"r":14,"v":3},{"c":6,"r":14,"v":2},{"c":7,"r":14,"v":1},{"c":8,"r":14,"v":0},{"c":9,"r":14,"v":-1},{"c":10,"r":14,"v":-2},{"c":11,"r":14,"v":-1},{"c":12,"r":14,"v":-2},{"c":13,"r":14,"v":-1},{"c":14,"r":14,"v":0},
{"c":1,"r":15,"v":0},{"c":2,"r":15,"v":-1},{"c":3,"r":15,"v":1},{"c":4,"r":15,"v":1},{"c":5,"r":15,"v":1},{"c":6,"r":15,"v":1},{"c":7,"r":15,"v":1},{"c":8,"r":15,"v":0},{"c":9,"r":15,"v":-1},{"c":10,"r":15,"v":-1},{"c":11,"r":15,"v":-1},{"c":12,"r":15,"v":-2},{"c":13,"r":15,"v":0},{"c":14,"r":15,"v":-1},
{"c":1,"r":16,"v":2},{"c":2,"r":16,"v":1},{"c":3,"r":16,"v":2},{"c":4,"r":16,"v":2},{"c":5,"r":16,"v":1},{"c":6,"r":16,"v":1},{"c":7,"r":16,"v":0},{"c":8,"r":16,"v":-2},{"c":9,"r":16,"v":-2},{"c":10,"r":16,"v":-3},{"c":11,"r":16,"v":-2},{"c":12,"r":16,"v":-1},{"c":13,"r":16,"v":0},{"c":14,"r":16,"v":1},
{"c":1,"r":17,"v":1},{"c":2,"r":17,"v":-1},{"c":3,"r":17,"v":1},{"c":4,"r":17,"v":-1},{"c":5,"r":17,"v":1},{"c":6,"r":17,"v":0},{"c":7,"r":17,"v":1},{"c":8,"r":17,"v":-1},{"c":9,"r":17,"v":0},{"c":10,"r":17,"v":-2},{"c":11,"r":17,"v":0},{"c":12,"r":17,"v":0},{"c":13,"r":17,"v":-1},{"c":14,"r":17,"v":1},
{"c":1,"r":18,"v":2},{"c":2,"r":18,"v":-2},{"c":3,"r":18,"v":-1},{"c":4,"r":18,"v":-1},{"c":5,"r":18,"v":0},{"c":6,"r":18,"v":1},{"c":7,"r":18,"v":1},{"c":8,"r":18,"v":1},{"c":9,"r":18,"v":-1},{"c":10,"r":18,"v":-2},{"c":11,"r":18,"v":1},{"c":12,"r":18,"v":-1},{"c":13,"r":18,"v":-2},{"c":14,"r":18,"v":1}],
"A_side":[{"r":1,"k":"N"},{"r":2,"k":"N"},{"r":3,"k":"N"},{"r":4,"k":"N"},{"r":5,"k":"N"},{"r":6,"k":"P"},{"r":7,"k":"N"},{"r":8,"k":"N"},{"r":9,"k":"N"},{"r":10,"k":"N"},{"r":11,"k":"N"},{"r":12,"k":"N"},{"r":13,"k":"N"},{"r":14,"k":"P"},{"r":15,"k":"N"},{"r":16,"k":"P"},{"r":17,"k":"N"},{"r":18,"k":"P"},{"r":19,"k":"N"},{"r":20,"k":"P"},{"r":21,"k":"P"},{"r":22,"k":"N"},{"r":23,"k":"P"},{"r":24,"k":"N"},{"r":25,"k":"P"},{"r":26,"k":"P"},{"r":27,"k":"P"},{"r":28,"k":"P"},{"r":29,"k":"N"},{"r":30,"k":"P"},{"r":31,"k":"N"},{"r":32,"k":"P"},{"r":33,"k":"N"},{"r":34,"k":"P"},{"r":35,"k":"P"},{"r":36,"k":"N"},{"r":37,"k":"P"},{"r":38,"k":"N"},{"r":39,"k":"P"},{"r":40,"k":"P"}],
"B_side":[{"r":1,"k":"N"},{"r":2,"k":"N"},{"r":3,"k":"N"},{"r":4,"k":"N"},{"r":5,"k":"N"},{"r":6,"k":"P"},{"r":7,"k":"N"},{"r":8,"k":"N"},{"r":9,"k":"N"},{"r":10,"k":"N"},{"r":11,"k":"N"},{"r":12,"k":"N"},{"r":13,"k":"P"},{"r":14,"k":"N"},{"r":15,"k":"P"},{"r":16,"k":"N"},{"r":17,"k":"N"},{"r":18,"k":"P"},{"r":19,"k":"N"},{"r":20,"k":"P"},{"r":21,"k":"N"},{"r":22,"k":"N"},{"r":23,"k":"P"},{"r":24,"k":"N"},{"r":25,"k":"N"},{"r":26,"k":"P"},{"r":27,"k":"P"},{"r":28,"k":"P"},{"r":29,"k":"P"},{"r":30,"k":"N"},{"r":31,"k":"P"},{"r":32,"k":"P"},{"r":33,"k":"N"},{"r":34,"k":"P"},{"r":35,"k":"P"},{"r":36,"k":"N"}],
"C_side":[{"r":1,"k":"N"},{"r":2,"k":"N"},{"r":3,"k":"N"},{"r":4,"k":"N"},{"r":5,"k":"N"},{"r":6,"k":"N"},{"r":7,"k":"P"},{"r":8,"k":"N"},{"r":9,"k":"N"},{"r":10,"k":"N"},{"r":11,"k":"N"},{"r":12,"k":"P"},{"r":13,"k":"N"},{"r":14,"k":"N"},{"r":15,"k":"N"},{"r":16,"k":"P"},{"r":17,"k":"P"},{"r":18,"k":"N"},{"r":19,"k":"P"},{"r":20,"k":"N"},{"r":21,"k":"N"},{"r":22,"k":"P"},{"r":23,"k":"P"},{"r":24,"k":"P"},{"r":25,"k":"P"},{"r":26,"k":"N"},{"r":27,"k":"P"},{"r":28,"k":"N"},{"r":29,"k":"P"},{"r":30,"k":"P"},{"r":31,"k":"P"},{"r":32,"k":"N"},{"r":33,"k":"P"},{"r":34,"k":"P"},{"r":35,"k":"P"},{"r":36,"k":"P"},{"r":37,"k":"N"},{"r":38,"k":"P"},{"r":39,"k":"N"},{"r":40,"k":"P"}],
"A_pi":[{"c":1,"t":"PI3K","s":0.25},{"c":2,"t":"PI3K","s":0.35},{"c":3,"t":"PI3K","s":0.4},{"c":4,"t":"PI3K","s":0.3},{"c":5,"t":"PI3K","s":0.2},{"c":6,"t":"PI3K","s":0.45},{"c":7,"t":"PI3K","s":0.3},{"c":8,"t":"PI3K","s":0.2},{"c":9,"t":"PI3K","s":0.3},{"c":10,"t":"PI3K","s":0.2},{"c":11,"t":"PI3K","s":0.25},{"c":12,"t":"PI3K","s":0.2},{"c":13,"t":"PI3K","s":0.2},{"c":14,"t":"PI3K","s":0.2},{"c":15,"t":"PI3K","s":0.25},{"c":16,"t":"PI3K","s":0.2},{"c":17,"t":"PI3K","s":0.2},{"c":18,"t":"PI3K","s":0.2},{"c":19,"t":"PI3K","s":0.2},{"c":20,"t":"PI3K","s":0.15},{"c":21,"t":"PI3K","s":0.2},{"c":22,"t":"PI3K","s":0.25},{"c":23,"t":"PI3K","s":0.2},{"c":24,"t":"PI3K","s":0.7},{"c":25,"t":"PI3K","s":0.45},{"c":26,"t":"PI3K","s":0.38},{"c":27,"t":"PI3K","s":0.42},{"c":28,"t":"PI3K","s":0.3},{"c":29,"t":"PI3K","s":0.72},{"c":30,"t":"PI3K","s":0.75},{"c":31,"t":"PI3K","s":0.68},{"c":32,"t":"PI3K","s":0.72},{"c":33,"t":"PI3K","s":0.6},{"c":34,"t":"PI3K","s":0.85},{"c":35,"t":"PI3K","s":0.85},{"c":36,"t":"PI3K","s":0.78},{"c":37,"t":"PI3K","s":0.82},{"c":38,"t":"PI3K","s":0.72},{"c":39,"t":"PI3K","s":0.8},{"c":40,"t":"PI3K","s":0.38}],
"B_pi":[{"c":1,"t":"PI3K","s":0.2},{"c":2,"t":"PI3K","s":0.3},{"c":3,"t":"PI3K","s":0.25},{"c":4,"t":"PI3K","s":0.3},{"c":5,"t":"PI3K","s":0.2},{"c":6,"t":"PI3K","s":0.15},{"c":7,"t":"PI3K","s":0.15},{"c":8,"t":"PI3K","s":0.15},{"c":9,"t":"PI3K","s":0.15},{"c":10,"t":"PI3K","s":0.2},{"c":11,"t":"PI3K","s":0.15},{"c":12,"t":"PI3K","s":0.15},{"c":13,"t":"PI3K","s":0.2},{"c":14,"t":"PI3K","s":0.28},{"c":15,"t":"PI3K","s":0.15},{"c":16,"t":"PI3K","s":0.2},{"c":17,"t":"PI3K","s":0.45},{"c":18,"t":"PI3K","s":0.62},{"c":19,"t":"PI3K","s":0.72},{"c":20,"t":"PI3K","s":0.75},{"c":21,"t":"PI3K","s":0.4},{"c":22,"t":"PI3K","s":0.6},{"c":23,"t":"PI3K","s":0.45},{"c":24,"t":"PI3K","s":0.42},{"c":25,"t":"PI3K","s":0.55},{"c":26,"t":"PI3K","s":0.8},{"c":27,"t":"PI3K","s":0.85},{"c":28,"t":"PI3K","s":0.85},{"c":29,"t":"PI3K","s":0.85},{"c":30,"t":"PI3K","s":0.82},{"c":31,"t":"PI3K","s":0.85},{"c":32,"t":"PI3K","s":0.85},{"c":33,"t":"PI3K","s":0.85},{"c":34,"t":"PI3K","s":0.75},{"c":35,"t":"PI3K","s":0.85},{"c":36,"t":"PI3K","s":0.55},{"c":37,"t":"PI3K","s":0.4},{"c":38,"t":"PI3K","s":0.45},{"c":39,"t":"PI3K","s":0.42},{"c":40,"t":"PI3K","s":0.5}],
"C_pi":[{"c":1,"t":"PI3K","s":0.25},{"c":2,"t":"PI3K","s":0.35},{"c":3,"t":"PI3K","s":0.45},{"c":4,"t":"PI3K","s":0.4},{"c":5,"t":"PI3K","s":0.3},{"c":6,"t":"PI3K","s":0.42},{"c":7,"t":"PI3K","s":0.3},{"c":8,"t":"PI3K","s":0.38},{"c":9,"t":"PI3K","s":0.2},{"c":10,"t":"PI3K","s":0.2},{"c":11,"t":"PI3K","s":0.1},{"c":12,"t":"PI3K","s":0.1},{"c":13,"t":"PI3K","s":0.1},{"c":14,"t":"PI3K","s":0.1},{"c":15,"t":"PI3K","s":0.1},{"c":16,"t":"PI3K","s":0.1},{"c":17,"t":"PI3K","s":0.1},{"c":18,"t":"PI3K","s":0.12},{"c":19,"t":"PI3K","s":0.2},{"c":20,"t":"PI3K","s":0.7},{"c":21,"t":"PI3K","s":0.3},{"c":22,"t":"PI3K","s":0.75},{"c":23,"t":"PI3K","s":0.8},{"c":24,"t":"PI3K","s":0.8},{"c":25,"t":"PI3K","s":0.85},{"c":26,"t":"PI3K","s":0.85},{"c":27,"t":"PI3K","s":0.82},{"c":28,"t":"PI3K","s":0.8},{"c":29,"t":"PI3K","s":0.85},{"c":30,"t":"PI3K","s":0.75},{"c":31,"t":"PI3K","s":0.8},{"c":32,"t":"PI3K","s":0.85},{"c":33,"t":"PI3K","s":0.75},{"c":34,"t":"PI3K","s":0.4},{"c":35,"t":"PI3K","s":0.6},{"c":36,"t":"PI3K","s":0.3},{"c":37,"t":"PI3K","s":0.45},{"c":38,"t":"PI3K","s":0.25},{"c":39,"t":"PI3K","s":0.3},{"c":40,"t":"PI3K","s":0.2}],
"A_st":[{"c":1,"t":"Stage","s":2},{"c":2,"t":"Stage","s":2},{"c":3,"t":"Stage","s":1},{"c":4,"t":"Stage","s":3},{"c":5,"t":"Stage","s":1},{"c":6,"t":"Stage","s":1},{"c":7,"t":"Stage","s":2},{"c":8,"t":"Stage","s":1},{"c":9,"t":"Stage","s":1},{"c":10,"t":"Stage","s":1},{"c":11,"t":"Stage","s":2},{"c":12,"t":"Stage","s":2},{"c":13,"t":"Stage","s":1},{"c":14,"t":"Stage","s":1},{"c":15,"t":"Stage","s":2},{"c":16,"t":"Stage","s":1},{"c":17,"t":"Stage","s":1},{"c":18,"t":"Stage","s":1},{"c":19,"t":"Stage","s":2},{"c":20,"t":"Stage","s":3},{"c":21,"t":"Stage","s":3},{"c":22,"t":"Stage","s":2},{"c":23,"t":"Stage","s":2},{"c":24,"t":"Stage","s":1},{"c":25,"t":"Stage","s":3},{"c":26,"t":"Stage","s":1},{"c":27,"t":"Stage","s":2},{"c":28,"t":"Stage","s":3},{"c":29,"t":"Stage","s":3},{"c":30,"t":"Stage","s":3},{"c":31,"t":"Stage","s":1},{"c":32,"t":"Stage","s":3},{"c":33,"t":"Stage","s":3},{"c":34,"t":"Stage","s":1},{"c":35,"t":"Stage","s":3},{"c":36,"t":"Stage","s":3},{"c":37,"t":"Stage","s":2},{"c":38,"t":"Stage","s":3},{"c":39,"t":"Stage","s":3},{"c":40,"t":"Stage","s":3}],
"B_st":[{"c":1,"t":"Stage","s":1},{"c":2,"t":"Stage","s":1},{"c":3,"t":"Stage","s":2},{"c":4,"t":"Stage","s":1},{"c":5,"t":"Stage","s":2},{"c":6,"t":"Stage","s":2},{"c":7,"t":"Stage","s":1},{"c":8,"t":"Stage","s":1},{"c":9,"t":"Stage","s":1},{"c":10,"t":"Stage","s":1},{"c":11,"t":"Stage","s":2},{"c":12,"t":"Stage","s":1},{"c":13,"t":"Stage","s":1},{"c":14,"t":"Stage","s":2},{"c":15,"t":"Stage","s":1},{"c":16,"t":"Stage","s":1},{"c":17,"t":"Stage","s":2},{"c":18,"t":"Stage","s":2},{"c":19,"t":"Stage","s":1},{"c":20,"t":"Stage","s":1},{"c":21,"t":"Stage","s":2},{"c":22,"t":"Stage","s":1},{"c":23,"t":"Stage","s":2},{"c":24,"t":"Stage","s":3},{"c":25,"t":"Stage","s":3},{"c":26,"t":"Stage","s":3},{"c":27,"t":"Stage","s":3},{"c":28,"t":"Stage","s":2},{"c":29,"t":"Stage","s":3},{"c":30,"t":"Stage","s":3},{"c":31,"t":"Stage","s":3},{"c":32,"t":"Stage","s":3},{"c":33,"t":"Stage","s":3},{"c":34,"t":"Stage","s":1},{"c":35,"t":"Stage","s":3},{"c":36,"t":"Stage","s":1},{"c":37,"t":"Stage","s":3},{"c":38,"t":"Stage","s":1},{"c":39,"t":"Stage","s":2},{"c":40,"t":"Stage","s":1}],
"C_st":[{"c":1,"t":"Stage","s":3},{"c":2,"t":"Stage","s":2},{"c":3,"t":"Stage","s":2},{"c":4,"t":"Stage","s":3},{"c":5,"t":"Stage","s":1},{"c":6,"t":"Stage","s":3},{"c":7,"t":"Stage","s":3},{"c":8,"t":"Stage","s":1},{"c":9,"t":"Stage","s":3},{"c":10,"t":"Stage","s":1},{"c":11,"t":"Stage","s":2},{"c":12,"t":"Stage","s":2},{"c":13,"t":"Stage","s":1},{"c":14,"t":"Stage","s":1},{"c":15,"t":"Stage","s":1},{"c":16,"t":"Stage","s":2},{"c":17,"t":"Stage","s":1},{"c":18,"t":"Stage","s":3},{"c":19,"t":"Stage","s":1},{"c":20,"t":"Stage","s":2},{"c":21,"t":"Stage","s":2},{"c":22,"t":"Stage","s":3},{"c":23,"t":"Stage","s":3},{"c":24,"t":"Stage","s":3},{"c":25,"t":"Stage","s":3},{"c":26,"t":"Stage","s":2},{"c":27,"t":"Stage","s":3},{"c":28,"t":"Stage","s":3},{"c":29,"t":"Stage","s":3},{"c":30,"t":"Stage","s":3},{"c":31,"t":"Stage","s":3},{"c":32,"t":"Stage","s":3},{"c":33,"t":"Stage","s":2},{"c":34,"t":"Stage","s":1},{"c":35,"t":"Stage","s":3},{"c":36,"t":"Stage","s":3},{"c":37,"t":"Stage","s":1},{"c":38,"t":"Stage","s":3},{"c":39,"t":"Stage","s":3},{"c":40,"t":"Stage","s":3}],
"A_km":[{"m":0,"p":100,"g":"High Apoptotic"},{"m":18,"p":98.5,"g":"High Apoptotic"},{"m":48,"p":97,"g":"High Apoptotic"},{"m":73,"p":95,"g":"High Apoptotic"},{"m":102,"p":95,"g":"High Apoptotic"},{"m":0,"p":100,"g":"Low Apoptotic"},{"m":12,"p":99,"g":"Low Apoptotic"},{"m":18,"p":98,"g":"Low Apoptotic"},{"m":22,"p":97,"g":"Low Apoptotic"},{"m":28,"p":96,"g":"Low Apoptotic"},{"m":32,"p":93,"g":"Low Apoptotic"},{"m":35,"p":90,"g":"Low Apoptotic"},{"m":38,"p":86,"g":"Low Apoptotic"},{"m":45,"p":85.5,"g":"Low Apoptotic"},{"m":47,"p":83,"g":"Low Apoptotic"},{"m":54,"p":82,"g":"Low Apoptotic"},{"m":55,"p":80,"g":"Low Apoptotic"},{"m":58,"p":78,"g":"Low Apoptotic"},{"m":59,"p":75,"g":"Low Apoptotic"},{"m":65,"p":74.5,"g":"Low Apoptotic"},{"m":67,"p":72,"g":"Low Apoptotic"},{"m":76,"p":70,"g":"Low Apoptotic"},{"m":80,"p":68,"g":"Low Apoptotic"},{"m":82,"p":66,"g":"Low Apoptotic"},{"m":102,"p":66,"g":"Low Apoptotic"}],
"B_km":[{"m":0,"p":100,"g":"High Apoptotic"},{"m":3,"p":98,"g":"High Apoptotic"},{"m":7,"p":96,"g":"High Apoptotic"},{"m":12,"p":94,"g":"High Apoptotic"},{"m":17,"p":92.5,"g":"High Apoptotic"},{"m":25,"p":92,"g":"High Apoptotic"},{"m":28,"p":90,"g":"High Apoptotic"},{"m":30,"p":86,"g":"High Apoptotic"},{"m":45,"p":84,"g":"High Apoptotic"},{"m":55,"p":82,"g":"High Apoptotic"},{"m":62,"p":80,"g":"High Apoptotic"},{"m":70,"p":79,"g":"High Apoptotic"},{"m":78,"p":77,"g":"High Apoptotic"},{"m":85,"p":75,"g":"High Apoptotic"},{"m":95,"p":74,"g":"High Apoptotic"},{"m":105,"p":72.5,"g":"High Apoptotic"},{"m":115,"p":71,"g":"High Apoptotic"},{"m":153,"p":71,"g":"High Apoptotic"},{"m":0,"p":100,"g":"Low Apoptotic"},{"m":3,"p":96,"g":"Low Apoptotic"},{"m":6,"p":92,"g":"Low Apoptotic"},{"m":10,"p":89,"g":"Low Apoptotic"},{"m":13,"p":85,"g":"Low Apoptotic"},{"m":15,"p":82,"g":"Low Apoptotic"},{"m":20,"p":78,"g":"Low Apoptotic"},{"m":25,"p":74,"g":"Low Apoptotic"},{"m":30,"p":72,"g":"Low Apoptotic"},{"m":35,"p":69,"g":"Low Apoptotic"},{"m":40,"p":66,"g":"Low Apoptotic"},{"m":43,"p":65,"g":"Low Apoptotic"},{"m":55,"p":63,"g":"Low Apoptotic"},{"m":70,"p":62,"g":"Low Apoptotic"},{"m":78,"p":60.5,"g":"Low Apoptotic"},{"m":88,"p":59,"g":"Low Apoptotic"},{"m":105,"p":58.5,"g":"Low Apoptotic"},{"m":110,"p":56.5,"g":"Low Apoptotic"},{"m":118,"p":55,"g":"Low Apoptotic"},{"m":127,"p":53.5,"g":"Low Apoptotic"},{"m":153,"p":53,"g":"Low Apoptotic"}],
"C_km":[{"m":0,"p":100,"g":"High Apoptotic"},{"m":5,"p":98,"g":"High Apoptotic"},{"m":10,"p":97,"g":"High Apoptotic"},{"m":15,"p":94,"g":"High Apoptotic"},{"m":18,"p":92,"g":"High Apoptotic"},{"m":22,"p":90,"g":"High Apoptotic"},{"m":30,"p":88,"g":"High Apoptotic"},{"m":35,"p":87,"g":"High Apoptotic"},{"m":73,"p":86,"g":"High Apoptotic"},{"m":75,"p":82,"g":"High Apoptotic"},{"m":85,"p":81,"g":"High Apoptotic"},{"m":86,"p":75,"g":"High Apoptotic"},{"m":160,"p":75,"g":"High Apoptotic"},{"m":0,"p":100,"g":"Low Apoptotic"},{"m":12,"p":100,"g":"Low Apoptotic"},{"m":14,"p":96,"g":"Low Apoptotic"},{"m":15,"p":88,"g":"Low Apoptotic"},{"m":17,"p":80,"g":"Low Apoptotic"},{"m":18,"p":76,"g":"Low Apoptotic"},{"m":22,"p":70,"g":"Low Apoptotic"},{"m":25,"p":66,"g":"Low Apoptotic"},{"m":30,"p":64,"g":"Low Apoptotic"},{"m":33,"p":58,"g":"Low Apoptotic"},{"m":73,"p":58,"g":"Low Apoptotic"},{"m":75,"p":56,"g":"Low Apoptotic"},{"m":80,"p":54,"g":"Low Apoptotic"},{"m":85,"p":52,"g":"Low Apoptotic"},{"m":90,"p":48,"g":"Low Apoptotic"},{"m":97,"p":45,"g":"Low Apoptotic"},{"m":105,"p":44,"g":"Low Apoptotic"},{"m":110,"p":41,"g":"Low Apoptotic"},{"m":120,"p":34,"g":"Low Apoptotic"},{"m":127,"p":31,"g":"Low Apoptotic"},{"m":130,"p":29,"g":"Low Apoptotic"},{"m":133,"p":26,"g":"Low Apoptotic"},{"m":190,"p":26,"g":"Low Apoptotic"}],
"A_c":[{"m":0,"p":100},{"m":8,"p":100},{"m":27,"p":98.5},{"m":53,"p":97},{"m":67,"p":97},{"m":68,"p":97},{"m":69,"p":97},{"m":70,"p":97},{"m":71,"p":97},{"m":72,"p":97},{"m":75,"p":95},{"m":78,"p":95},{"m":82,"p":95},{"m":85,"p":95},{"m":87,"p":95},{"m":89,"p":95},{"m":91,"p":95},{"m":93,"p":95},{"m":95,"p":95},{"m":97,"p":95},{"m":99,"p":95},{"m":101,"p":95},{"m":102,"p":95},{"m":27,"p":96},{"m":54,"p":82},{"m":68,"p":72},{"m":70,"p":72},{"m":72,"p":72},{"m":76,"p":70},{"m":78,"p":70},{"m":80,"p":68},{"m":84,"p":66},{"m":86,"p":66},{"m":88,"p":66},{"m":90,"p":66},{"m":92,"p":66},{"m":94,"p":66},{"m":96,"p":66},{"m":98,"p":66},{"m":100,"p":66},{"m":102,"p":66}],
"B_c":[{"m":0,"p":100},{"m":22,"p":92},{"m":25,"p":92},{"m":35,"p":86},{"m":55,"p":82},{"m":57,"p":82},{"m":60,"p":82},{"m":66,"p":80},{"m":72,"p":79},{"m":78,"p":77},{"m":86,"p":75},{"m":90,"p":75},{"m":95,"p":74},{"m":100,"p":74},{"m":105,"p":72.5},{"m":110,"p":72.5},{"m":118,"p":71},{"m":121,"p":71},{"m":124,"p":71},{"m":127,"p":71},{"m":130,"p":71},{"m":133,"p":71},{"m":136,"p":71},{"m":139,"p":71},{"m":142,"p":71},{"m":147,"p":71},{"m":151,"p":71},{"m":8,"p":92},{"m":12,"p":89},{"m":25,"p":74},{"m":30,"p":72},{"m":38,"p":69},{"m":42,"p":66},{"m":120,"p":55},{"m":123,"p":55},{"m":128,"p":53.5},{"m":131,"p":53.5},{"m":134,"p":53.5},{"m":137,"p":53.5},{"m":140,"p":53.5},{"m":143,"p":53.5},{"m":146,"p":53.5},{"m":151,"p":53.5}],
"C_c":[{"m":2,"p":100},{"m":10,"p":97},{"m":17,"p":94},{"m":25,"p":90},{"m":35,"p":87},{"m":37,"p":87},{"m":40,"p":87},{"m":43,"p":87},{"m":53,"p":87},{"m":58,"p":87},{"m":63,"p":87},{"m":66,"p":87},{"m":70,"p":87},{"m":73,"p":86},{"m":78,"p":82},{"m":82,"p":82},{"m":85,"p":81},{"m":100,"p":75},{"m":136,"p":75},{"m":150,"p":75},{"m":153,"p":75},{"m":159,"p":75},{"m":12,"p":100},{"m":54,"p":58},{"m":63,"p":58},{"m":73,"p":58},{"m":80,"p":54},{"m":85,"p":52},{"m":92,"p":48},{"m":97,"p":45},{"m":105,"p":44},{"m":112,"p":41},{"m":124,"p":34},{"m":132,"p":29},{"m":139,"p":26},{"m":146,"p":26},{"m":153,"p":26},{"m":190,"p":26}],
"scores":[{"s":1},{"s":0.95},{"s":0.9},{"s":0.85},{"s":0.8},{"s":0.75},{"s":0.7},{"s":0.65},{"s":0.6},{"s":0.55},{"s":0.5},{"s":0.45},{"s":0.4},{"s":0.35},{"s":0.3},{"s":0.25},{"s":0.2},{"s":0.15},{"s":0.1},{"s":0.05}]
},
"layer":[
{"data":{"name":"A_top"},"mark":"rect","encoding":{"x":{"field":"l","type":"ordinal","scale":{"type":"band","range":[140,313],"paddingInner":0,"paddingOuter":0},"axis":null},"y":{"field":"h","type":"quantitative","scale":{"domain":[0,82],"range":[93,11],"nice":false},"axis":null},"y2":{"datum":0},"color":{"field":"s","type":"nominal","scale":{"domain":["P","N"],"range":["#ff9a90","#9cf59c"]},"legend":null}}},
{"data":{"name":"A_arch"},"encoding":{"x":{"field":"l","type":"quantitative","scale":{"domain":[0,100],"range":[140,313],"nice":false},"axis":null},"y":{"field":"h","type":"quantitative","scale":{"domain":[0,82],"range":[93,11],"nice":false},"axis":null},"color":{"field":"g","type":"nominal","scale":{"domain":["root","P","N"],"range":["#777777","#f07070","#60e860"]},"legend":null}},"layer":[{"mark":{"type":"rule","strokeWidth":1},"encoding":{"x2":{"field":"r"}}},{"mark":{"type":"rule","strokeWidth":1},"encoding":{"y2":{"field":"a"}}},{"mark":{"type":"rule","strokeWidth":1},"encoding":{"x":{"field":"r","type":"quantitative","axis":null},"y2":{"field":"b"}}}]},
{"data":{"values":[{"t":"A"}]},"mark":{"type":"text","fontSize":27},"encoding":{"x":{"datum":-74,"scale":{"domain":[0,100],"range":[140,313],"nice":false},"axis":null},"y":{"datum":53,"scale":{"domain":[0,82],"range":[93,11],"nice":false},"axis":null},"text":{"field":"t"}}},
{"data":{"name":"A_left"},"mark":{"type":"rect","color":"#8c8c8c","stroke":"#8c8c8c","strokeWidth":0.4},"encoding":{"y":{"field":"r","type":"ordinal","scale":{"type":"band","range":[93,265],"paddingInner":0,"paddingOuter":0},"axis":null},"x":{"field":"d","type":"quantitative","scale":{"domain":[0,100],"range":[140,40],"nice":false},"axis":null},"x2":{"datum":0}}},
{"data":{"name":"A_la"},"encoding":{"x":{"field":"d","type":"quantitative","scale":{"domain":[0,100],"range":[140,40],"nice":false},"axis":null},"y":{"field":"t","type":"quantitative","scale":{"domain":[0,100],"range":[93,265],"nice":false},"axis":null}},"layer":[{"mark":{"type":"rule","color":"#555","strokeWidth":0.8},"encoding":{"y2":{"field":"b"}}},{"mark":{"type":"rule","color":"#555","strokeWidth":0.8},"encoding":{"x2":{"field":"p"}}},{"mark":{"type":"rule","color":"#555","strokeWidth":0.8},"encoding":{"y":{"field":"b","type":"quantitative","axis":null},"x2":{"field":"q"}}}]},
{"data":{"values":[{}]},"mark":{"type":"rect","color":"#1c1c00"},"encoding":{"x":{"datum":0,"scale":{"domain":[0,1],"range":[140,313],"nice":false},"axis":null},"x2":{"datum":1},"y":{"datum":0,"scale":{"domain":[0,1],"range":[93,265],"nice":false},"axis":null},"y2":{"datum":1}}},
{"data":{"name":"A_heat"},"mark":"rect","encoding":{"x":{"field":"c","type":"ordinal","scale":{"type":"band","range":[140,313],"paddingInner":0,"paddingOuter":0},"axis":null},"y":{"field":"r","type":"ordinal","scale":{"type":"band","range":[93,265],"paddingInner":0,"paddingOuter":0},"axis":null},"color":{"field":"v","type":"quantitative","scale":{"domain":[-3,0,3],"range":["#00ee00","#1c1c00","#ff2a00"]},"legend":null}}},
{"data":{"name":"A_side"},"mark":"rect","encoding":{"y":{"field":"r","type":"ordinal","scale":{"type":"band","range":[93,265],"paddingInner":0,"paddingOuter":0},"axis":null},"x":{"datum":0,"scale":{"domain":[0,1],"range":[316,326],"nice":false},"axis":null},"x2":{"datum":1},"color":{"field":"k","type":"nominal","scale":{"domain":["N","P"],"range":["#00e800","#ff3300"]},"legend":null}}},
{"data":{"name":"A_pi"},"mark":"rect","encoding":{"x":{"field":"c","type":"ordinal","scale":{"type":"band","range":[141,313],"paddingInner":0,"paddingOuter":0},"axis":null},"y":{"field":"t","type":"ordinal","scale":{"type":"band","domain":["PI3K","Stage"],"range":[268,301],"paddingInner":0.35,"paddingOuter":0},"axis":{"orient":"left","offset":-140,"title":null,"domain":false,"ticks":false,"labelPadding":10,"labelFontSize":18,"labelColor":"#000"}},"color":{"field":"s","type":"quantitative","scale":{"domain":[0.05,0.2,0.35,0.5,0.65,0.8,0.95],"range":["#00008b","#0040ff","#00e5ff","#66ee88","#ffdd00","#ff2000","#7a0000"]},"legend":null}}},
{"data":{"name":"A_st"},"mark":"rect","encoding":{"x":{"field":"c","type":"ordinal","scale":{"type":"band","range":[140,313],"paddingInner":0,"paddingOuter":0},"axis":null},"y":{"field":"t","type":"ordinal","scale":{"type":"band","domain":["PI3K","Stage"],"range":[268,301],"paddingInner":0.35,"paddingOuter":0},"axis":null},"color":{"field":"s","type":"ordinal","scale":{"domain":[1,2,3,4],"range":["#33dd00","#ffdd00","#0a44e0","#ff8800"]},"legend":null}}},
{"data":{"name":"A_km"},"mark":{"type":"line","interpolate":"step-after","strokeWidth":2.2},"encoding":{"x":{"field":"m","type":"quantitative","scale":{"domain":[0,125],"range":[381.7,545.7],"nice":false},"axis":{"orient":"bottom","offset":-768.3,"values":[0,25,50,75,100,125],"title":"Survival (Months)"}},"y":{"field":"p","type":"quantitative","scale":{"domain":[0,100],"range":[247.7,143],"nice":false},"axis":{"orient":"left","offset":-381.7,"values":[0,20,40,60,80,100],"title":"Percent Survival"}},"color":{"field":"g","type":"nominal","scale":{"domain":["High Apoptotic","Low Apoptotic"],"range":["#ff3010","#22ee00"]},"legend":{"orient":"none","legendX":535,"legendY":141.5}}}},
{"data":{"values":[{}]},"layer":[
{"mark":{"type":"rect","fill":"transparent","stroke":"#222","strokeWidth":1.5},"encoding":{"x":{"datum":-38.6,"scale":{"domain":[0,125],"range":[381.7,545.7],"nice":false},"axis":null},"x2":{"datum":205.3},"y":{"datum":143.9,"scale":{"domain":[0,100],"range":[247.7,143],"nice":false},"axis":null},"y2":{"datum":-38.5}}},
{"data":{"name":"A_c"},"mark":{"type":"tick","orient":"vertical","size":4,"thickness":1,"color":"#000"},"encoding":{"x":{"field":"m","type":"quantitative","axis":null},"y":{"field":"p","type":"quantitative","axis":null}}},
{"mark":{"type":"text","fontSize":21},"encoding":{"x":{"datum":-36.4,"axis":null},"y":{"datum":158,"axis":null},"text":{"value":"Breast - GSE1456"}}},
{"mark":{"type":"text","fontSize":14.5},"encoding":{"x":{"datum":5.6,"axis":null},"y":{"datum":128.4,"axis":null},"text":{"value":"Kaplan-Meier:Survival"}}},
{"mark":{"type":"text","fontSize":15.2,"fontStyle":"italic"},"encoding":{"x":{"datum":115.3,"axis":null},"y":{"datum":27.4,"axis":null},"text":{"value":"p"}}},
{"mark":{"type":"text","fontSize":15.2},"encoding":{"x":{"datum":124.5,"axis":null},"y":{"datum":27.4,"axis":null},"text":{"value":"value < 0.0001"}}}
]},
{"data":{"name":"B_top"},"mark":"rect","encoding":{"x":{"field":"l","type":"ordinal","scale":{"type":"band","range":[78,310],"paddingInner":0,"paddingOuter":0},"axis":null},"y":{"field":"h","type":"quantitative","scale":{"domain":[0,71],"range":[409,338],"nice":false},"axis":null},"y2":{"datum":0},"color":{"field":"s","type":"nominal","scale":{"domain":["P","N"],"range":["#ff9a90","#9cf59c"]},"legend":null}}},
{"data":{"name":"B_arch"},"encoding":{"x":{"field":"l","type":"quantitative","scale":{"domain":[0,100],"range":[78,310],"nice":false},"axis":null},"y":{"field":"h","type":"quantitative","scale":{"domain":[0,71],"range":[409,338],"nice":false},"axis":null},"color":{"field":"g","type":"nominal","scale":{"domain":["root","P","N"],"range":["#bbbbbb","#f07070","#60e860"]},"legend":null}},"layer":[{"mark":{"type":"rule","strokeWidth":1},"encoding":{"x2":{"field":"r"}}},{"mark":{"type":"rule","strokeWidth":1},"encoding":{"y2":{"field":"a"}}},{"mark":{"type":"rule","strokeWidth":1},"encoding":{"x":{"field":"r","type":"quantitative","axis":null},"y2":{"field":"b"}}}]},
{"data":{"values":[{"t":"B"}]},"mark":{"type":"text","fontSize":27},"encoding":{"x":{"datum":-27.6,"scale":{"domain":[0,100],"range":[78,310],"nice":false},"axis":null},"y":{"datum":48,"scale":{"domain":[0,71],"range":[409,338],"nice":false},"axis":null},"text":{"field":"t"}}},
{"data":{"name":"B_left"},"mark":{"type":"rect","color":"#8c8c8c","stroke":"#8c8c8c","strokeWidth":0.4},"encoding":{"y":{"field":"r","type":"ordinal","scale":{"type":"band","range":[409,558],"paddingInner":0,"paddingOuter":0},"axis":null},"x":{"field":"d","type":"quantitative","scale":{"domain":[0,100],"range":[78,-22],"nice":false},"axis":null},"x2":{"datum":0}}},
{"data":{"name":"B_la"},"encoding":{"x":{"field":"d","type":"quantitative","scale":{"domain":[0,100],"range":[78,-22],"nice":false},"axis":null},"y":{"field":"t","type":"quantitative","scale":{"domain":[0,100],"range":[409,558],"nice":false},"axis":null}},"layer":[{"mark":{"type":"rule","color":"#555","strokeWidth":0.8},"encoding":{"y2":{"field":"b"}}},{"mark":{"type":"rule","color":"#555","strokeWidth":0.8},"encoding":{"x2":{"field":"p"}}},{"mark":{"type":"rule","color":"#555","strokeWidth":0.8},"encoding":{"y":{"field":"b","type":"quantitative","axis":null},"x2":{"field":"q"}}}]},
{"data":{"values":[{}]},"mark":{"type":"rect","color":"#1c1c00"},"encoding":{"x":{"datum":0,"scale":{"domain":[0,1],"range":[78,310],"nice":false},"axis":null},"x2":{"datum":1},"y":{"datum":0,"scale":{"domain":[0,1],"range":[409,558],"nice":false},"axis":null},"y2":{"datum":1}}},
{"data":{"name":"B_heat"},"mark":"rect","encoding":{"x":{"field":"c","type":"ordinal","scale":{"type":"band","range":[78,310],"paddingInner":0,"paddingOuter":0},"axis":null},"y":{"field":"r","type":"ordinal","scale":{"type":"band","range":[409,558],"paddingInner":0,"paddingOuter":0},"axis":null},"color":{"field":"v","type":"quantitative","scale":{"domain":[-3,0,3],"range":["#00ee00","#1c1c00","#ff2a00"]},"legend":null}}},
{"data":{"name":"B_side"},"mark":"rect","encoding":{"y":{"field":"r","type":"ordinal","scale":{"type":"band","range":[409,558],"paddingInner":0,"paddingOuter":0},"axis":null},"x":{"datum":0,"scale":{"domain":[0,1],"range":[314,323],"nice":false},"axis":null},"x2":{"datum":1},"color":{"field":"k","type":"nominal","scale":{"domain":["N","P"],"range":["#00d850","#ee2200"]},"legend":null}}},
{"data":{"name":"B_pi"},"mark":"rect","encoding":{"x":{"field":"c","type":"ordinal","scale":{"type":"band","range":[78,310],"paddingInner":0,"paddingOuter":0},"axis":null},"y":{"field":"t","type":"ordinal","scale":{"type":"band","domain":["PI3K","Stage"],"range":[561,592],"paddingInner":0.3,"paddingOuter":0},"axis":{"orient":"left","offset":-78,"title":null,"domain":false,"ticks":false,"labelPadding":6,"labelFontSize":18,"labelColor":"#000"}},"color":{"field":"s","type":"quantitative","scale":{"domain":[0.05,0.2,0.35,0.5,0.65,0.8,0.95],"range":["#00008b","#0040ff","#00e5ff","#66ee88","#ffdd00","#ff2000","#7a0000"]},"legend":null}}},
{"data":{"name":"B_st"},"mark":"rect","encoding":{"x":{"field":"c","type":"ordinal","scale":{"type":"band","range":[78,310],"paddingInner":0,"paddingOuter":0},"axis":null},"y":{"field":"t","type":"ordinal","scale":{"type":"band","domain":["PI3K","Stage"],"range":[561,592],"paddingInner":0.3,"paddingOuter":0},"axis":null},"color":{"field":"s","type":"ordinal","scale":{"domain":[1,2,3,4],"range":["#66dd00","#ffdd00","#0a44e0","#ff8800"]},"legend":null}}},
{"data":{"name":"B_km"},"mark":{"type":"line","interpolate":"step-after","strokeWidth":2.2},"encoding":{"x":{"field":"m","type":"quantitative","scale":{"domain":[0,176],"range":[381.7,546],"nice":false},"axis":{"orient":"bottom","offset":-472,"values":[0,50,100,150],"title":"Survival (Months)"}},"y":{"field":"p","type":"quantitative","scale":{"domain":[0,100],"range":[544,434],"nice":false},"axis":{"orient":"left","offset":-381.7,"values":[0,20,40,60,80,100],"title":"Percent Survival"}},"color":{"field":"g","type":"nominal","scale":{"domain":["High Apoptotic","Low Apoptotic"],"range":["#ff3010","#22ee00"]},"legend":{"orient":"none","legendX":535,"legendY":452}}}},
{"data":{"values":[{}]},"layer":[
{"mark":{"type":"rect","fill":"transparent","stroke":"#222","strokeWidth":1.5},"encoding":{"x":{"datum":-54.3,"scale":{"domain":[0,176],"range":[381.7,546],"nice":false},"axis":null},"x2":{"datum":288.5},"y":{"datum":137.3,"scale":{"domain":[0,100],"range":[544,434],"nice":false},"axis":null},"y2":{"datum":-38.2}}},
{"data":{"name":"B_c"},"mark":{"type":"tick","orient":"vertical","size":4,"thickness":1,"color":"#000"},"encoding":{"x":{"field":"m","type":"quantitative","axis":null},"y":{"field":"p","type":"quantitative","axis":null}}},
{"mark":{"type":"text","fontSize":21},"encoding":{"x":{"datum":-51.1,"axis":null},"y":{"datum":150.9,"axis":null},"text":{"value":"Breast - GSE4922"}}},
{"mark":{"type":"text","fontSize":14.5},"encoding":{"x":{"datum":7.8,"axis":null},"y":{"datum":120.3,"axis":null},"text":{"value":"Kaplan-Meier: Survival"}}},
{"mark":{"type":"text","fontSize":15.2,"fontStyle":"italic"},"encoding":{"x":{"datum":162.1,"axis":null},"y":{"datum":21.8,"axis":null},"text":{"value":"p"}}},
{"mark":{"type":"text","fontSize":15.2},"encoding":{"x":{"datum":175,"axis":null},"y":{"datum":21.8,"axis":null},"text":{"value":"value  0.0037"}}}
]},
{"data":{"name":"C_top"},"mark":"rect","encoding":{"x":{"field":"l","type":"ordinal","scale":{"type":"band","range":[167,306],"paddingInner":0.2,"paddingOuter":0},"axis":null},"y":{"field":"h","type":"quantitative","scale":{"domain":[0,97],"range":[739.3,642.3],"nice":false},"axis":null},"y2":{"datum":0},"color":{"field":"s","type":"nominal","scale":{"domain":["P","N"],"range":["#ff9a90","#9cf59c"]},"legend":null}}},
{"data":{"name":"C_arch"},"encoding":{"x":{"field":"l","type":"quantitative","scale":{"domain":[0,100],"range":[167,306],"nice":false},"axis":null},"y":{"field":"h","type":"quantitative","scale":{"domain":[0,97],"range":[739.3,642.3],"nice":false},"axis":null},"color":{"field":"g","type":"nominal","scale":{"domain":["root","P","N"],"range":["#777777","#f07070","#60e860"]},"legend":null}},"layer":[{"mark":{"type":"rule","strokeWidth":1},"encoding":{"x2":{"field":"r"}}},{"mark":{"type":"rule","strokeWidth":1},"encoding":{"y2":{"field":"a"}}},{"mark":{"type":"rule","strokeWidth":1},"encoding":{"x":{"field":"r","type":"quantitative","axis":null},"y2":{"field":"b"}}}]},
{"data":{"values":[{"t":"C"}]},"mark":{"type":"text","fontSize":27},"encoding":{"x":{"datum":-110.8,"scale":{"domain":[0,100],"range":[167,306],"nice":false},"axis":null},"y":{"datum":57.3,"scale":{"domain":[0,97],"range":[739.3,642.3],"nice":false},"axis":null},"text":{"field":"t"}}},
{"data":{"name":"C_left"},"mark":{"type":"rect","color":"#7a7a7a"},"encoding":{"y":{"field":"r","type":"ordinal","scale":{"type":"band","range":[739,959],"paddingInner":0,"paddingOuter":0},"axis":null},"x":{"field":"d","type":"quantitative","scale":{"domain":[0,100],"range":[167,67],"nice":false},"axis":null},"x2":{"datum":0}}},
{"data":{"name":"C_la"},"encoding":{"x":{"field":"d","type":"quantitative","scale":{"domain":[0,100],"range":[167,67],"nice":false},"axis":null},"y":{"field":"t","type":"quantitative","scale":{"domain":[0,100],"range":[739,959],"nice":false},"axis":null}},"layer":[{"mark":{"type":"rule","color":"#555","strokeWidth":0.8},"encoding":{"y2":{"field":"b"}}},{"mark":{"type":"rule","color":"#555","strokeWidth":0.8},"encoding":{"x2":{"field":"p"}}},{"mark":{"type":"rule","color":"#555","strokeWidth":0.8},"encoding":{"y":{"field":"b","type":"quantitative","axis":null},"x2":{"field":"q"}}}]},
{"data":{"values":[{}]},"mark":{"type":"rect","color":"#1c1c00"},"encoding":{"x":{"datum":0,"scale":{"domain":[0,1],"range":[167,306],"nice":false},"axis":null},"x2":{"datum":1},"y":{"datum":0,"scale":{"domain":[0,1],"range":[739,959],"nice":false},"axis":null},"y2":{"datum":1}}},
{"data":{"name":"C_heat"},"mark":"rect","encoding":{"x":{"field":"c","type":"ordinal","scale":{"type":"band","range":[167,306],"paddingInner":0,"paddingOuter":0},"axis":null},"y":{"field":"r","type":"ordinal","scale":{"type":"band","range":[739,959],"paddingInner":0,"paddingOuter":0},"axis":null},"color":{"field":"v","type":"quantitative","scale":{"domain":[-3,0,3],"range":["#00ee00","#1c1c00","#ff2a00"]},"legend":null}}},
{"data":{"name":"C_side"},"mark":"rect","encoding":{"y":{"field":"r","type":"ordinal","scale":{"type":"band","range":[739,959],"paddingInner":0,"paddingOuter":0},"axis":null},"x":{"datum":0,"scale":{"domain":[0,1],"range":[313,322],"nice":false},"axis":null},"x2":{"datum":1},"color":{"field":"k","type":"nominal","scale":{"domain":["N","P"],"range":["#00e800","#ff3300"]},"legend":null}}},
{"data":{"name":"C_pi"},"mark":"rect","encoding":{"x":{"field":"c","type":"ordinal","scale":{"type":"band","range":[168,305],"paddingInner":0,"paddingOuter":0},"axis":null},"y":{"field":"t","type":"ordinal","scale":{"type":"band","domain":["PI3K","Stage"],"range":[966,1002],"paddingInner":0.41,"paddingOuter":0},"axis":{"orient":"left","offset":-167,"title":null,"domain":false,"ticks":false,"labelPadding":8,"labelFontSize":18,"labelColor":"#000"}},"color":{"field":"s","type":"quantitative","scale":{"domain":[0.05,0.2,0.35,0.5,0.65,0.8,0.95],"range":["#00008b","#0040ff","#00e5ff","#66ee88","#ffdd00","#ff2000","#7a0000"]},"legend":null}}},
{"data":{"name":"C_st"},"mark":"rect","encoding":{"x":{"field":"c","type":"ordinal","scale":{"type":"band","range":[167,307],"paddingInner":0,"paddingOuter":0},"axis":null},"y":{"field":"t","type":"ordinal","scale":{"type":"band","domain":["PI3K","Stage"],"range":[966,1002],"paddingInner":0.41,"paddingOuter":0},"axis":null},"color":{"field":"s","type":"ordinal","scale":{"domain":[1,2,3,4],"range":["#33dd00","#ffdd00","#0a44e0","#ff8800"]},"legend":null}}},
{"data":{"name":"C_km"},"mark":{"type":"line","interpolate":"step-after","strokeWidth":2.2},"encoding":{"x":{"field":"m","type":"quantitative","scale":{"domain":[0,209.5],"range":[381.7,535],"nice":false},"axis":{"orient":"bottom","offset":-110,"values":[0,50,100,150,200],"title":"Survival (Months)"}},"y":{"field":"p","type":"quantitative","scale":{"domain":[0,100],"range":[906,795.7],"nice":false},"axis":{"orient":"left","offset":-381.7,"values":[0,20,40,60,80,100],"title":"Percent Survival"}},"color":{"field":"g","type":"nominal","scale":{"domain":["High Apoptotic","Low Apoptotic"],"range":["#ff3010","#22ee00"]},"legend":{"orient":"none","legendX":535,"legendY":808}}}},
{"data":{"values":[{}]},"layer":[
{"mark":{"type":"rect","fill":"transparent","stroke":"#222","strokeWidth":1.5},"encoding":{"x":{"datum":-69.3,"scale":{"domain":[0,209.5],"range":[381.7,535],"nice":false},"axis":null},"x2":{"datum":368},"y":{"datum":132.4,"scale":{"domain":[0,100],"range":[906,795.7],"nice":false},"axis":null},"y2":{"datum":-41.7}}},
{"data":{"name":"C_c"},"mark":{"type":"tick","orient":"vertical","size":4,"thickness":1,"color":"#000"},"encoding":{"x":{"field":"m","type":"quantitative","axis":null},"y":{"field":"p","type":"quantitative","axis":null}}},
{"mark":{"type":"text","fontSize":21},"encoding":{"x":{"datum":-65.2,"axis":null},"y":{"datum":149.6,"axis":null},"text":{"value":"Ovarian - GSE3149"}}},
{"mark":{"type":"text","fontSize":14.5},"encoding":{"x":{"datum":10,"axis":null},"y":{"datum":119.7,"axis":null},"text":{"value":"Kaplan-Meier: Survival"}}},
{"mark":{"type":"text","fontSize":15.2,"fontStyle":"italic"},"encoding":{"x":{"datum":206.8,"axis":null},"y":{"datum":16,"axis":null},"text":{"value":"p"}}},
{"mark":{"type":"text","fontSize":15.2},"encoding":{"x":{"datum":223.2,"axis":null},"y":{"datum":16,"axis":null},"text":{"value":"value 0.0004"}}}
]},
{"data":{"values":[{}]},"layer":[
{"mark":{"type":"rect","fill":"transparent","stroke":"#222","strokeWidth":1.2},"encoding":{"x":{"datum":0,"scale":{"domain":[0,100],"range":[658,790],"nice":false},"axis":null},"x2":{"datum":100},"y":{"datum":0,"scale":{"domain":[0,100],"range":[94,537],"nice":false},"axis":null},"y2":{"datum":100}}},
{"mark":{"type":"text","fontSize":25},"encoding":{"x":{"datum":-30.3,"axis":null},"y":{"datum":-12.4,"axis":null},"text":{"value":"D"}}},
{"mark":{"type":"text","fontSize":20},"encoding":{"x":{"datum":6.8,"axis":null},"y":{"datum":-2.9,"axis":null},"text":{"value":"Key"}}},
{"mark":{"type":"text","fontSize":18},"encoding":{"x":{"datum":11.4,"axis":null},"y":{"datum":5.6,"axis":null},"text":{"value":"Gene Class"}}},
{"mark":{"type":"rule","color":"#111","strokeWidth":1},"encoding":{"x":{"datum":11.4,"axis":null},"x2":{"datum":83.3},"y":{"datum":7.2,"axis":null}}},
{"mark":{"type":"text","fontSize":18},"encoding":{"x":{"datum":11.4,"axis":null},"y":{"datum":36.3,"axis":null},"text":{"value":"PI3K score"}}},
{"mark":{"type":"rule","color":"#111","strokeWidth":1},"encoding":{"x":{"datum":11.4,"axis":null},"x2":{"datum":78.8},"y":{"datum":37.9,"axis":null}}},
{"mark":{"type":"text","fontSize":18},"encoding":{"x":{"datum":8.3,"axis":null},"y":{"datum":72.7,"axis":null},"text":{"value":"Tumor Stage"}}},
{"mark":{"type":"rule","color":"#111","strokeWidth":1},"encoding":{"x":{"datum":8.3,"axis":null},"x2":{"datum":88.6},"y":{"datum":74.3,"axis":null}}}
]},
{"data":{"values":[{"k":"Not PI3K\nrepressed"},{"k":"PI3K\nrepressed"}]},"encoding":{"y":{"field":"k","type":"ordinal","scale":{"type":"band","domain":["Not PI3K\nrepressed","PI3K\nrepressed"],"range":[136,194],"paddingInner":0.62,"paddingOuter":0},"axis":null}},"layer":[
{"mark":"rect","encoding":{"x":{"datum":0,"scale":{"domain":[0,1],"range":[671,688],"nice":false},"axis":null},"x2":{"datum":1},"color":{"field":"k","type":"nominal","scale":{"domain":["Not PI3K\nrepressed","PI3K\nrepressed"],"range":["#11ee11","#ff3300"]},"legend":null}}},
{"mark":{"type":"text","fontSize":14.5,"lineBreak":"\n","lineHeight":17,"dy":8},"encoding":{"x":{"datum":1.7,"axis":null},"text":{"field":"k"}}}
]},
{"data":{"name":"scores"},"mark":"rect","encoding":{"y":{"field":"s","type":"ordinal","scale":{"type":"band","domain":[1,0.95,0.9,0.85,0.8,0.75,0.7,0.65,0.6,0.55,0.5,0.45,0.4,0.35,0.3,0.25,0.2,0.15,0.1,0.05],"range":[272,369],"paddingInner":0,"paddingOuter":0},"axis":{"orient":"right","offset":-100,"values":[0.9,0.7,0.5,0.3,0.1],"title":null,"domain":false,"ticks":false,"labelPadding":10,"labelFontSize":14.5}},"x":{"datum":0,"scale":{"domain":[0,1],"range":[680,700],"nice":false},"axis":null},"x2":{"datum":1},"color":{"field":"s","type":"quantitative","scale":{"domain":[0.05,0.2,0.35,0.5,0.65,0.8,0.95],"range":["#00008b","#0040ff","#00e5ff","#66ee88","#ffdd00","#ff2000","#7a0000"]},"legend":null}}},
{"data":{"values":[{"st":"Stage 1"},{"st":"Stage 2"},{"st":"Stage 3"},{"st":"Stage 4"}]},"mark":"rect","encoding":{"y":{"field":"st","type":"ordinal","scale":{"type":"band","range":[431,518],"paddingInner":0.27,"paddingOuter":0},"axis":{"orient":"right","offset":-111,"title":null,"domain":false,"ticks":false,"labelPadding":11,"labelFontSize":14.5}},"x":{"datum":0,"scale":{"domain":[0,1],"range":[671,689],"nice":false},"axis":null},"x2":{"datum":1},"color":{"field":"st","type":"nominal","scale":{"domain":["Stage 1","Stage 2","Stage 3","Stage 4"],"range":["#00dd00","#f0ff00","#0a44e0","#ff8800"]},"legend":null}}}
],
"resolve":{"scale":{"x":"independent","y":"independent","color":"independent"},"axis":{"x":"independent","y":"independent"},"legend":{"color":"independent"}}}
